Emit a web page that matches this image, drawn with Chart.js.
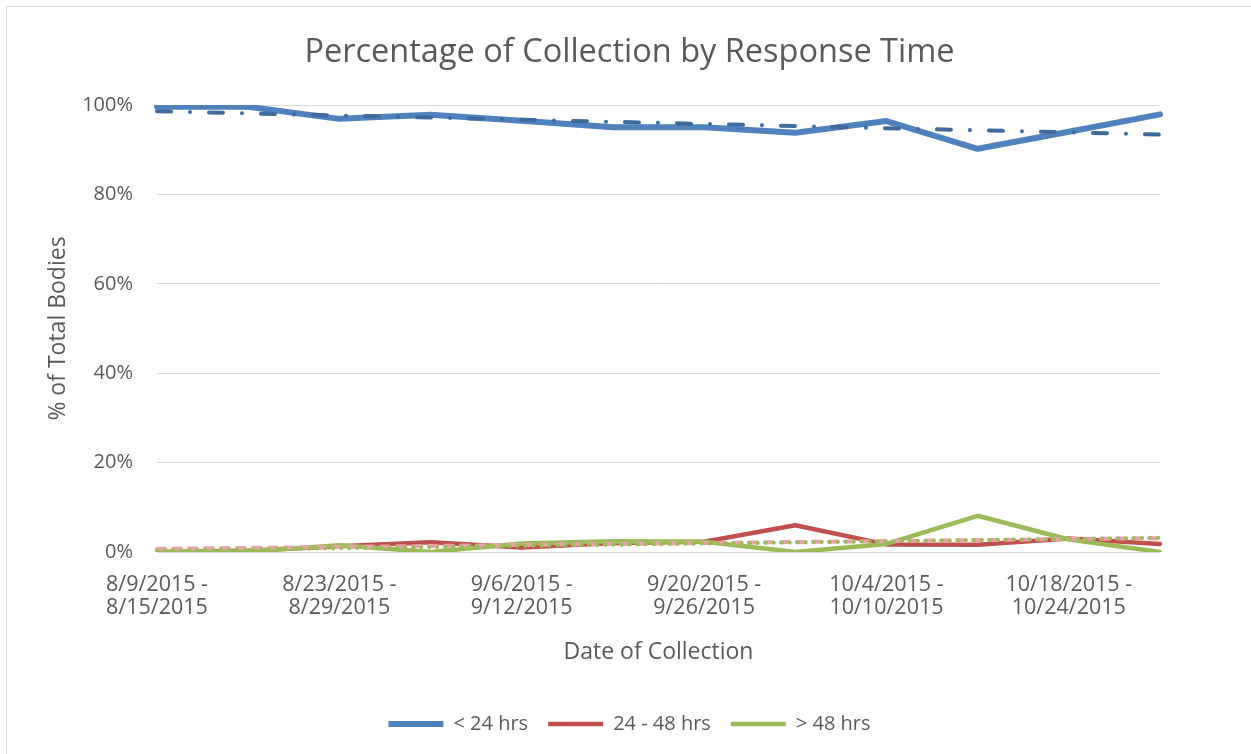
<!DOCTYPE html>
<html>
<head>
<meta charset="utf-8">
<script src="https://cdn.jsdelivr.net/npm/chart.js@4/dist/chart.umd.min.js"></script>
<style>
    html, body { margin: 0; padding: 0; background: #ffffff; }
    #box { position: relative; width: 1251px; height: 754px; }
</style>
</head>
<body>
<div id="box"><canvas id="responseChart"></canvas></div>
<script>
// weekly collection periods
const weeks = [
    ['8/9/2015 -', '8/15/2015'],
    ['8/16/2015 -', '8/22/2015'],
    ['8/23/2015 -', '8/29/2015'],
    ['8/30/2015 -', '9/5/2015'],
    ['9/6/2015 -', '9/12/2015'],
    ['9/13/2015 -', '9/19/2015'],
    ['9/20/2015 -', '9/26/2015'],
    ['9/27/2015 -', '10/3/2015'],
    ['10/4/2015 -', '10/10/2015'],
    ['10/11/2015 -', '10/17/2015'],
    ['10/18/2015 -', '10/24/2015'],
    ['10/25/2015 -', '10/31/2015']
];

const under24 = [99.6, 99.6, 96.9, 97.8, 96.5, 95.0, 95.0, 93.8, 96.4, 90.2, 94.0, 97.9];
const from24to48 = [0, 0.3, 1.3, 2.2, 1.0, 2.0, 2.3, 6.0, 1.7, 1.6, 3.0, 1.8];
const over48 = [0, 0.1, 1.5, 0, 1.9, 2.4, 2.3, 0, 1.8, 8.1, 2.8, 0];

// trendline ends (first week, last week)
const trendUnder24 = [98.6, 93.4];
const trend24to48 = [0.7, 3.1];
const trendOver48 = [0.3, 3.2];

const yTicks = [0, 20, 40, 60, 80, 100];

const textColor = '#595959';
const gridColor = '#d9d9d9';
const fontFamily = '"Open Sans", "Liberation Sans", sans-serif';

function trendSeries(ends) {
    const arr = weeks.map(() => null);
    arr[0] = ends[0];
    arr[arr.length - 1] = ends[1];
    return arr;
}

const borderPlugin = {
    id: 'outerBorder',
    beforeDraw(chart) {
        const ctx = chart.ctx;
        ctx.save();
        ctx.strokeStyle = gridColor;
        ctx.lineWidth = 1;
        ctx.strokeRect(6.5, 6.5, 1300, 800);
        ctx.restore();
    }
};

const ctx = document.getElementById('responseChart').getContext('2d');
new Chart(ctx, {
    type: 'line',
    data: {
        labels: weeks,
        datasets: [{
            label: '< 24 hrs',
            data: under24,
            borderColor: '#4f81bd',
            borderWidth: 6,
            borderCapStyle: 'round',
            order: 6
        }, {
            label: '24 - 48 hrs',
            data: from24to48,
            borderColor: '#c0504d',
            borderWidth: 4.5,
            borderCapStyle: 'round',
            order: 5
        }, {
            label: '> 48 hrs',
            data: over48,
            borderColor: '#9bbb59',
            borderWidth: 4.5,
            borderCapStyle: 'round',
            order: 4
        }, {
            label: 'trend1',
            data: trendSeries(trendUnder24),
            borderColor: '#3f6a9c',
            borderWidth: 4,
            borderCapStyle: 'round',
            borderDash: [14, 19, 0.01, 19],
            spanGaps: true,
            order: 3
        }, {
            label: 'trend2',
            data: trendSeries(trend24to48),
            borderColor: '#e6a4a3',
            borderWidth: 4,
            borderCapStyle: 'round',
            borderDash: [8, 8],
            spanGaps: true,
            order: 2
        }, {
            label: 'trend3',
            data: trendSeries(trendOver48),
            borderColor: '#9bbb59',
            borderWidth: 4,
            borderCapStyle: 'round',
            borderDash: [0.01, 8],
            spanGaps: true,
            order: 1
        }]
    },
    options: {
        responsive: true,
        maintainAspectRatio: false,
        animation: false,
        layout: {
            padding: { top: 0, left: 8, right: 0, bottom: 10 }
        },
        elements: {
            point: { radius: 0, hoverRadius: 0 },
            line: { tension: 0, borderJoinStyle: 'round', fill: false }
        },
        plugins: {
            title: {
                display: true,
                text: 'Percentage of Collection by Response Time',
                color: textColor,
                font: { family: fontFamily, size: 32.5, weight: 'normal' },
                padding: { top: 33, bottom: 33 }
            },
            legend: {
                position: 'bottom',
                labels: {
                    color: textColor,
                    font: { family: fontFamily, size: 20 },
                    usePointStyle: true,
                    pointStyle: 'line',
                    pointStyleWidth: 55,
                    padding: 20,
                    filter: item => !item.text.startsWith('trend'),
                    sort: (a, b) => a.datasetIndex - b.datasetIndex
                }
            },
            tooltip: { enabled: false }
        },
        scales: {
            x: {
                offset: false,
                grid: { display: false, drawTicks: false },
                border: { display: false },
                ticks: {
                    color: textColor,
                    font: { family: fontFamily, size: 21.5, lineHeight: 1.07 },
                    padding: 21,
                    autoSkip: false,
                    maxRotation: 0,
                    callback: function(value, index) {
                        return index % 2 === 0 ? this.getLabelForValue(value) : '';
                    }
                },
                title: {
                    display: true,
                    text: 'Date of Collection',
                    color: textColor,
                    font: { family: fontFamily, size: 23 },
                    padding: { top: 4, bottom: 28 }
                },
                afterFit: scale => { scale.height = 142; }
            },
            y: {
                min: yTicks[0],
                max: yTicks[yTicks.length - 1],
                grid: { color: gridColor, drawTicks: false },
                border: { display: false },
                ticks: {
                    stepSize: 20,
                    color: textColor,
                    font: { family: fontFamily, size: 20 },
                    padding: 24,
                    callback: value => value + '%'
                },
                title: {
                    display: true,
                    text: '% of Total Bodies',
                    color: textColor,
                    font: { family: fontFamily, size: 23 },
                    padding: { top: 37, bottom: 0 }
                },
                afterFit: scale => { scale.width = 149; }
            },
            // empty right-hand axis, keeps the plot off the right edge while title and legend stay centred
            spacer: {
                type: 'linear',
                position: 'right',
                grid: { display: false, drawTicks: false },
                border: { display: false },
                ticks: { display: false },
                afterFit: scale => { scale.width = 91; }
            }
        }
    },
    plugins: [borderPlugin]
});
</script>
</body>
</html>
